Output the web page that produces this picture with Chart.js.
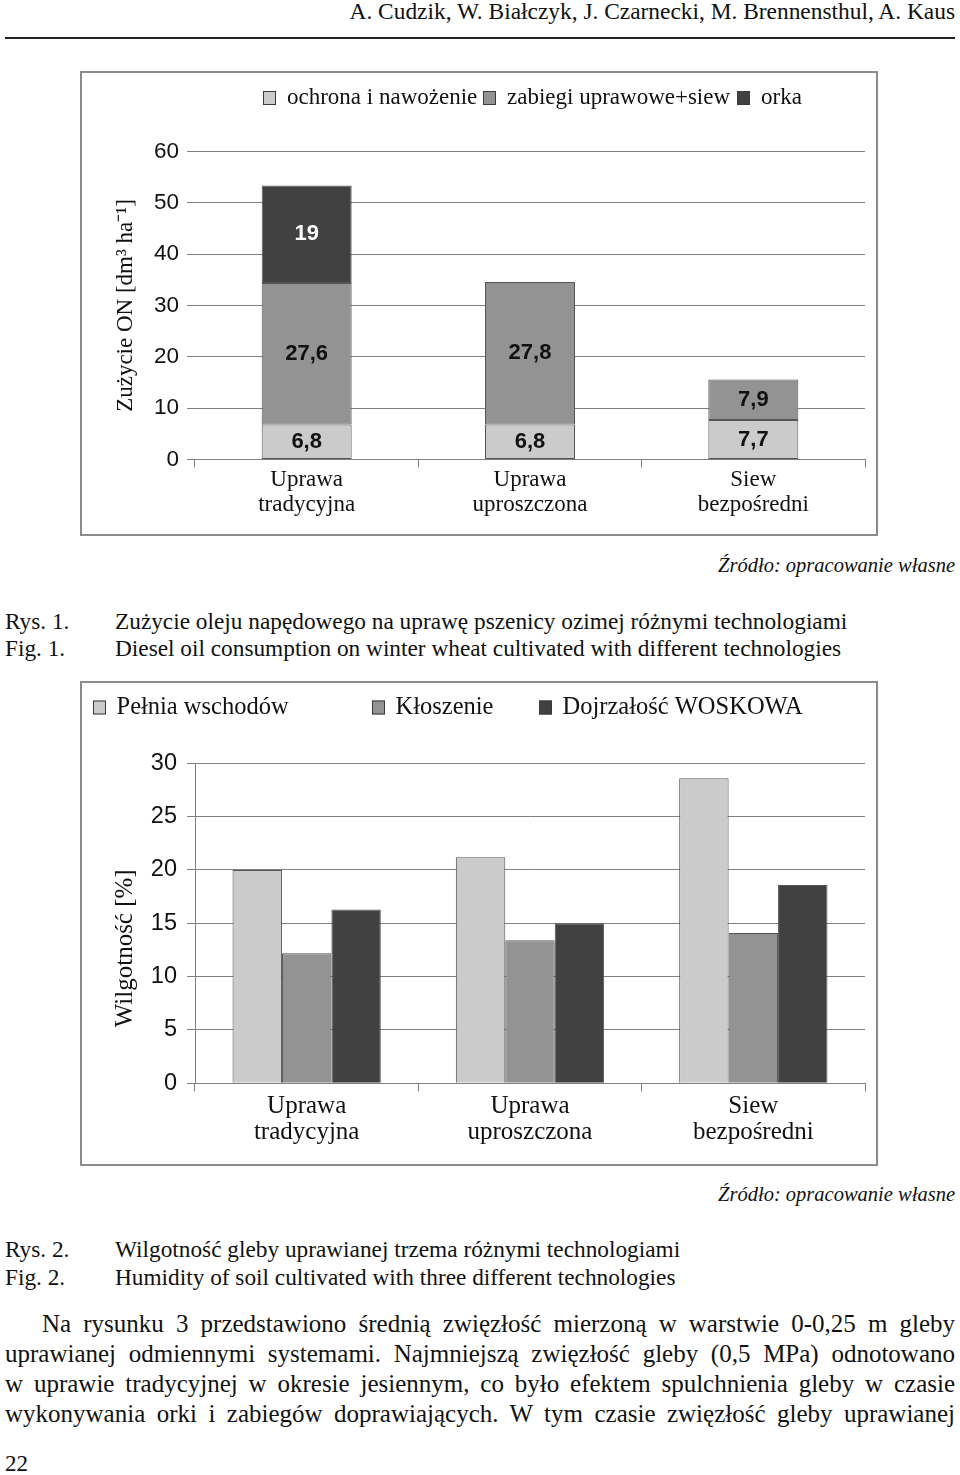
<!DOCTYPE html>
<html lang="pl">
<head>
<meta charset="utf-8">
<title>Rys. 1, Rys. 2</title>
<script src="https://cdn.jsdelivr.net/npm/chart.js@4.4.1/dist/chart.umd.min.js"></script>
<style>
  body { margin: 0; width: 960px; height: 1475px; background: #fff; position: relative; overflow: hidden;
         font-family: "Liberation Serif", "Times New Roman", serif; color: #111; }
  .t { position: absolute; white-space: nowrap; line-height: 1; }
  .rule { position: absolute; left: 5px; top: 37px; width: 950px; height: 2px; background: #222; }
  .box { position: absolute; left: 80px; width: 794px; border: 2px solid #8c8c8c; background: #fff; }
  .box canvas { display: block; }
  .src { font-style: italic; font-size: 20.5px; right: 5px; }
  .cap { font-size: 23.3px; }
  .par { position: absolute; left: 5px; width: 950px; font-size: 25px; line-height: 1;
         text-align: justify; text-align-last: justify; white-space: nowrap; }
</style>
</head>
<body>
<div class="t" style="right:5px;top:0;font-size:23.4px">A. Cudzik, W. Białczyk, J. Czarnecki, M. Brennensthul, A. Kaus</div>
<div class="rule"></div>

<div class="box" style="top:71px;height:461px"><canvas id="fuel" width="794" height="461"></canvas></div>
<div class="t src" style="top:555px">Źródło: opracowanie własne</div>
<div class="t cap" style="left:5px;top:610px">Rys. 1.</div>
<div class="t cap" style="left:115px;top:610px">Zużycie oleju napędowego na uprawę pszenicy ozimej różnymi technologiami</div>
<div class="t cap" style="left:5px;top:637px">Fig. 1.</div>
<div class="t cap" style="left:115px;top:637px">Diesel oil consumption on winter wheat cultivated with different technologies</div>

<div class="box" style="top:681px;height:481px"><canvas id="humidity" width="794" height="481"></canvas></div>
<div class="t src" style="top:1184px">Źródło: opracowanie własne</div>
<div class="t cap" style="left:5px;top:1238px">Rys. 2.</div>
<div class="t cap" style="left:115px;top:1238px">Wilgotność gleby uprawianej trzema różnymi technologiami</div>
<div class="t cap" style="left:5px;top:1266px">Fig. 2.</div>
<div class="t cap" style="left:115px;top:1266px">Humidity of soil cultivated with three different technologies</div>

<div class="par" style="top:1311px;left:42px;width:913px">Na rysunku 3 przedstawiono średnią zwięzłość mierzoną w warstwie 0-0,25 m gleby</div>
<div class="par" style="top:1341px">uprawianej odmiennymi systemami. Najmniejszą zwięzłość gleby (0,5 MPa) odnotowano</div>
<div class="par" style="top:1371px">w uprawie tradycyjnej w okresie jesiennym, co było efektem spulchnienia gleby w czasie</div>
<div class="par" style="top:1401px">wykonywania orki i zabiegów doprawiających. W tym czasie zwięzłość gleby uprawianej</div>
<div class="t" style="left:5px;top:1452px;font-size:23px">22</div>

<script>
// categories shared by both figures
const categories = [['Uprawa', 'tradycyjna'], ['Uprawa', 'uproszczona'], ['Siew', 'bezpośredni']];

// Rys. 1 - diesel use [dm3 ha-1], stacked
const fuelSeries = ['ochrona i nawożenie', 'zabiegi uprawowe+siew', 'orka'];
const fuelOchrona = [6.8, 6.8, 7.7];
const fuelZabiegi = [27.6, 27.8, 7.9];
const fuelOrka = [19, null, null];
const fuelTicks = [0, 10, 20, 30, 40, 50, 60];

// Rys. 2 - soil humidity [%]
const humSeries = ['Pełnia wschodów', 'Kłoszenie', 'Dojrzałość WOSKOWA'];
const humPelnia = [20.0, 21.2, 28.6];
const humKloszenie = [12.2, 13.4, 14.1];
const humDojrzalosc = [16.3, 15.0, 18.6];
const humTicks = [0, 5, 10, 15, 20, 25, 30];

const SERIF = '"Liberation Serif", "Times New Roman", serif';
const SANS = '"Liberation Sans", Arial, sans-serif';
const greys = ['#cbcbcb', '#939393', '#414141'];
const gridColor = '#808080';
const ink = '#111';

Chart.defaults.animation = false;
Chart.defaults.color = ink;

// legend drawn as small boxes at fixed spots, like the scanned figure
const boxLegend = {
  id: 'boxLegend',
  afterDraw(chart, args, opts) {
    const { ctx } = chart;
    ctx.save();
    ctx.font = opts.font;
    ctx.textBaseline = 'middle';
    chart.data.datasets.forEach((ds, i) => {
      const x = opts.x[i];
      const top = opts.y - opts.boxH / 2;
      ctx.fillStyle = ds.backgroundColor;
      ctx.fillRect(x, top, opts.boxW, opts.boxH);
      ctx.strokeStyle = '#3a3a3a';
      ctx.lineWidth = 1;
      ctx.strokeRect(x + 0.5, top + 0.5, opts.boxW - 1, opts.boxH - 1);
      ctx.fillStyle = ink;
      ctx.fillText(ds.label, x + opts.textGap, opts.y);
    });
    ctx.restore();
  }
};

// values printed in the middle of each stacked segment
const barValues = {
  id: 'barValues',
  afterDatasetsDraw(chart, args, opts) {
    if (!opts.show) return;
    const { ctx } = chart;
    ctx.save();
    ctx.font = opts.font;
    ctx.textAlign = 'center';
    ctx.textBaseline = 'middle';
    chart.data.datasets.forEach((ds, i) => {
      chart.getDatasetMeta(i).data.forEach((bar, j) => {
        const v = ds.data[j];
        if (v == null) return;
        const { x, y, base } = bar.getProps(['x', 'y', 'base'], true);
        ctx.fillStyle = opts.colors[i];
        ctx.fillText(String(v).replace('.', ','), x, (y + base) / 2);
      });
    });
    ctx.restore();
  }
};

const xAxis = (size, lineHeight, pad, height, stacked) => ({
  stacked,
  grid: { display: true, drawOnChartArea: false, drawTicks: true, tickLength: 8, color: gridColor, lineWidth: 1 },
  border: { display: true, color: gridColor },
  ticks: { font: { family: SERIF, size, lineHeight }, color: ink, padding: pad, maxRotation: 0, autoSkip: false },
  afterFit: s => { s.height = height; }
});

const yAxis = (ticks, tickSize, pad, title, titleSize, titlePad, showBorder, stacked) => ({
  stacked,
  min: ticks[0],
  max: ticks[ticks.length - 1],
  ticks: { stepSize: ticks[1] - ticks[0], font: { family: SANS, size: tickSize }, color: ink, padding: pad },
  grid: { color: gridColor, lineWidth: 1, tickLength: 8 },
  border: { display: showBorder, color: gridColor },
  title: { display: true, text: title, font: { family: SERIF, size: titleSize, lineHeight: 1.2 }, color: ink,
           padding: { top: titlePad, bottom: 0 } },
  afterFit: s => { s.width = 113; }
});

new Chart(document.getElementById('fuel'), {
  type: 'bar',
  data: {
    labels: categories,
    datasets: [
      { label: fuelSeries[0], data: fuelOchrona, backgroundColor: greys[0] },
      { label: fuelSeries[1], data: fuelZabiegi, backgroundColor: greys[1] },
      { label: fuelSeries[2], data: fuelOrka, backgroundColor: greys[2] }
    ].map(d => ({ ...d, borderColor: '#555', borderWidth: 1, borderSkipped: false,
                  barPercentage: 0.403, categoryPercentage: 1 }))
  },
  options: {
    responsive: false,
    layout: { padding: { top: 78.5, right: 11, left: 0, bottom: 0 } },
    plugins: {
      legend: { display: false },
      tooltip: { enabled: false },
      boxLegend: { x: [181, 401, 655], y: 25, boxW: 13, boxH: 14, textGap: 24, font: '23px ' + SERIF },
      barValues: { show: true, font: 'bold 22px ' + SANS, colors: [ink, ink, '#fff'] }
    },
    scales: {
      x: xAxis(23, 1.1, 0, 74.5, true),
      y: yAxis(fuelTicks, 22.5, 8, 'Zużycie ON [dm³ ha⁻¹]', 23, 30, false, true)
    }
  },
  plugins: [boxLegend, barValues]
});

new Chart(document.getElementById('humidity'), {
  type: 'bar',
  data: {
    labels: categories,
    datasets: [
      { label: humSeries[0], data: humPelnia, backgroundColor: greys[0] },
      { label: humSeries[1], data: humKloszenie, backgroundColor: greys[1] },
      { label: humSeries[2], data: humDojrzalosc, backgroundColor: greys[2] }
    ].map(d => ({ ...d, borderColor: '#555', borderWidth: 1, borderSkipped: 'start',
                  barPercentage: 1, categoryPercentage: 0.664 }))
  },
  options: {
    responsive: false,
    layout: { padding: { top: 80.3, right: 11, left: 0, bottom: 0 } },
    plugins: {
      legend: { display: false },
      tooltip: { enabled: false },
      boxLegend: { x: [11, 290, 457], y: 24.5, boxW: 13, boxH: 14, textGap: 23.5, font: '24.5px ' + SERIF },
      barValues: { show: false }
    },
    scales: {
      x: xAxis(25, 1.07, 1.3, 80.7, false),
      // trailing em spaces push the rotated title down, as in the scan
      y: yAxis(humTicks, 23.5, 10, 'Wilgotność [%]\u2003\u2003', 25, 28, true, false)
    }
  },
  plugins: [boxLegend, barValues]
});
</script>
</body>
</html>
